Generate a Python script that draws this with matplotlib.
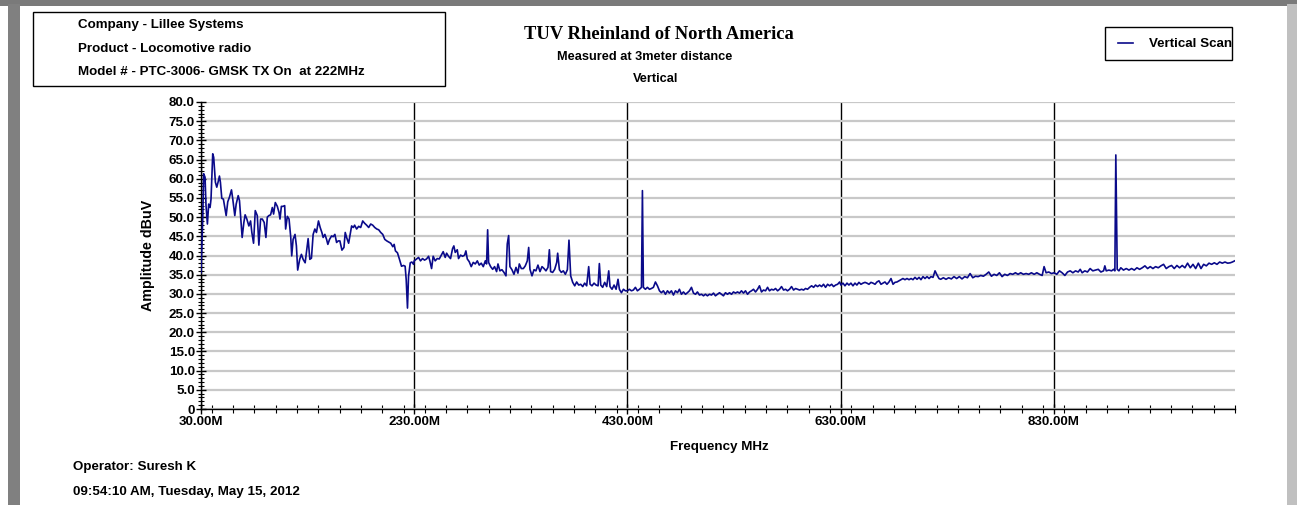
import matplotlib
matplotlib.use("Agg")
import matplotlib.pyplot as plt
from matplotlib.patches import Rectangle
from matplotlib.ticker import MultipleLocator, FixedLocator, FuncFormatter

# ---------------- data ----------------
freq_mhz = [
    30.0, 31.6, 32.5, 33.8, 34.7, 36.0, 37.2, 38.5, 39.4, 41.0, 41.9, 43.5, 44.8, 46.0, 47.3, 48.2,
    49.5, 51.0, 53.6, 55.1, 56.7, 58.6, 59.8, 61.7, 63.0, 64.9, 66.1, 68.6, 70.2, 71.4, 73.0, 74.9,
    76.5, 77.7, 79.3, 80.9, 82.8, 84.3, 85.9, 87.5, 89.3, 90.9, 92.2, 93.7, 95.3, 96.9, 98.1, 99.7,
    101.6, 103.2, 104.1, 105.4, 106.9, 108.5, 109.4, 111.0, 112.6, 114.2, 115.1, 116.4, 118.2, 119.5,
    120.7, 122.6, 124.2, 125.8, 127.7, 129.2, 130.5, 132.1, 133.6, 135.2, 136.8, 138.3, 140.2, 141.8,
    143.4, 144.6, 146.2, 147.8, 149.0, 150.6, 152.5, 154.0, 155.6, 157.2, 158.7, 160.3, 162.2, 164.1,
    165.3, 166.6, 168.5, 169.7, 171.3, 172.9, 174.1, 176.0, 177.9, 179.8, 181.7, 183.5, 185.4, 187.3,
    189.2, 191.1, 193.0, 194.9, 196.7, 198.6, 200.5, 202.4, 204.3, 206.2, 208.0, 209.9, 211.2, 212.4,
    214.3, 216.2, 218.1, 220.0, 221.5, 222.5, 223.7, 224.7, 226.3, 227.8, 229.4,
    230.0, 232.2, 234.1, 235.9, 237.8, 239.7, 241.6, 243.5, 244.7, 246.3, 247.8, 249.7, 251.6, 253.5,
    255.4, 257.2, 259.1, 260.4, 262.2, 264.1, 266.0, 267.2, 268.5, 270.4, 271.6, 273.5, 275.4, 277.3,
    278.5, 279.8, 281.6, 283.5, 285.4, 287.3, 289.2, 291.0, 292.9, 294.8, 296.7, 297.9, 298.9, 299.8,
    301.7, 303.6, 305.4, 307.3, 308.6, 310.4, 312.3, 314.2, 316.1, 317.3, 318.6, 319.8, 321.7, 323.6,
    325.5, 327.3, 328.6, 330.5, 332.4, 334.2, 336.1, 337.4, 338.6, 340.5, 342.4, 344.2, 346.1, 348.0,
    349.9, 351.8, 353.6, 355.5, 356.8, 358.0, 359.9, 361.8, 363.7, 364.6, 366.2, 368.0, 369.9, 371.8,
    373.7, 375.2, 376.8, 378.7, 380.6, 382.4, 384.3, 386.2, 388.1, 389.9, 391.8, 393.7, 395.0, 396.8,
    398.7, 400.6, 402.5, 403.7, 405.0, 406.8, 408.7, 410.6, 412.5, 413.7, 415.6, 417.5, 419.4, 421.2,
    422.5, 424.4, 426.3, 428.1, 430.0, 431.9, 433.8, 435.6, 437.5, 439.4, 441.3, 443.2, 444.1, 445.0,
    446.9, 448.8, 450.7, 452.5, 454.4, 456.3, 458.2, 460.1, 461.9, 463.8, 465.7, 467.6, 469.4, 471.3,
    473.2, 475.1, 477.0, 478.8,
    480.7, 482.6, 484.5, 486.3, 488.2, 490.1, 492.0, 493.9, 495.7, 497.6, 499.5, 501.4, 503.2, 505.1,
    507.0, 508.9, 510.8, 512.6, 514.5, 516.4, 518.3, 520.1, 522.0, 523.9, 525.8, 527.7, 529.5, 531.4,
    533.3, 535.2, 537.0, 538.9, 540.8, 542.7, 544.6, 546.4, 548.3, 550.2, 552.1, 553.9, 555.8, 557.7,
    559.6, 561.5, 563.3, 565.2, 567.1, 569.0, 570.9, 572.7, 574.6, 576.5, 578.4, 580.2, 582.1, 584.0,
    585.9, 587.8, 589.6, 591.5, 593.4, 595.3, 597.1, 599.0, 600.9, 602.8, 604.7, 606.5, 608.4, 610.3,
    612.2, 614.0, 615.9, 617.8, 619.7, 621.6, 623.4, 625.3, 627.2, 629.1, 630.3, 632.2, 634.1, 636.0,
    637.8, 639.7, 641.6, 643.5, 645.3, 647.2, 649.1, 651.0, 652.9, 654.7, 656.6, 658.5, 660.4, 662.3,
    664.1, 666.0, 667.9, 669.8, 671.6, 673.5, 675.4, 677.3, 679.2, 681.0, 682.9, 684.8, 686.7, 688.5,
    690.4, 692.3, 694.2, 696.1, 697.9, 699.8, 701.7, 703.6, 705.4, 707.3, 709.2, 711.1, 713.0, 714.8,
    716.7, 718.6, 720.5, 722.3,
    723.9, 726.4, 728.9, 731.4, 733.9, 736.4, 738.9, 741.4, 743.9, 746.5, 749.0, 751.5, 754.0, 756.5,
    759.0, 761.5, 764.0, 766.5, 769.0, 771.5, 774.0, 776.5, 779.0, 781.5, 784.0, 786.5, 789.0, 791.5,
    794.0, 796.5, 799.0, 801.5, 804.0, 806.5, 809.0, 811.6, 814.1, 816.6, 819.1, 820.9, 822.8, 825.3,
    827.8, 830.3, 832.8, 835.3, 837.8, 840.4, 842.9, 845.4, 847.9, 850.4, 852.9, 854.8, 856.6, 859.1,
    861.6, 864.1, 866.6, 869.1, 871.7, 874.2, 876.7, 877.9, 879.2, 881.7, 884.2, 886.1, 887.3, 888.2,
    889.5, 891.1, 892.9, 895.4, 898.0, 900.5, 903.0, 905.5, 908.0, 910.5, 913.0, 915.5, 918.0, 920.5,
    923.0, 925.5, 928.0, 930.5, 933.0, 935.5, 938.0, 940.5, 943.0, 945.5, 948.0, 950.5, 953.0, 955.5,
    958.1, 960.6, 963.1, 965.6, 968.1, 970.6, 973.1, 975.6, 978.1, 980.6, 983.1, 985.6, 988.1, 990.6,
    993.1, 995.6, 997.5, 999.7,
]

amp_dbuv = [
    35.5, 49.5, 61.3, 60.4, 53.0, 48.2, 53.4, 52.5, 54.7, 66.5, 65.6, 59.1, 57.8, 59.1, 60.7, 59.1,
    54.9, 54.7, 50.4, 54.0, 55.2, 57.1, 54.7, 50.4, 53.4, 55.6, 54.3, 44.7, 48.6, 50.6, 49.5, 47.7,
    49.0, 46.0, 43.2, 51.7, 50.4, 42.7, 49.5, 49.5, 48.6, 44.7, 50.0, 50.4, 50.6, 52.5, 50.8, 53.8,
    52.8, 51.2, 49.5, 52.8, 52.8, 53.0, 46.9, 50.2, 49.5, 44.7, 39.9, 44.2, 45.5, 42.5,
    36.2, 39.0, 40.3, 39.0, 38.1, 41.6, 44.4, 39.0, 39.3, 45.5, 46.9, 46.0, 49.0, 47.3,
    46.0, 44.7, 45.5, 44.2, 42.9, 44.2, 45.1, 44.9, 45.5, 43.4, 43.8, 43.8, 41.4, 42.1,
    46.0, 44.7, 43.2, 45.1, 47.7, 47.3, 47.9, 46.9, 47.6, 47.3, 49.0, 48.4, 47.9, 47.3,
    48.2, 47.9, 47.3, 46.9, 46.7, 46.0, 45.5, 44.2, 43.8, 43.5, 43.2, 42.3, 42.9, 41.2,
    40.7, 39.0, 37.2, 37.4, 37.2, 33.7, 26.3, 34.6, 38.1, 38.3, 37.7,
    38.6, 39.1, 39.5, 38.6, 39.2, 38.8, 39.1, 39.8, 38.6, 36.6, 39.8, 38.6, 39.2, 39.1,
    40.1, 41.0, 39.5, 40.6, 39.8, 39.2, 41.8, 42.5, 40.8, 41.5, 39.2, 40.1, 39.8, 40.1,
    41.2, 39.1, 38.4, 37.1, 38.2, 37.8, 38.6, 37.5, 38.0, 37.1, 38.6, 37.8, 46.7, 38.2,
    37.1, 36.4, 37.1, 35.8, 37.8, 36.0, 36.3, 35.6, 34.7, 43.0, 45.2, 37.1, 36.3, 35.1,
    36.9, 35.4, 37.8, 36.6, 36.6, 37.3, 38.6, 42.1, 36.4, 34.7, 36.3, 36.0, 37.5, 35.8,
    37.1, 36.6, 36.0, 36.9, 41.5, 35.8, 35.6, 36.4, 38.2, 40.6, 36.3, 35.6, 36.0, 35.1,
    36.3, 44.0, 34.7, 33.0, 32.1, 33.1, 32.3, 32.5, 31.9, 32.8, 32.1, 37.1, 32.5, 32.1,
    32.8, 32.3, 32.1, 37.9, 32.3, 31.7, 33.0, 31.9, 36.0, 31.9, 31.2, 32.3, 31.2, 33.8,
    31.2, 30.3, 31.2, 30.8, 30.8, 31.2, 30.8, 31.0, 31.7, 30.8, 31.2, 31.7, 56.9, 31.7,
    31.2, 31.7, 31.2, 31.4, 31.7, 33.1, 32.1, 30.8, 30.3, 30.8, 29.9, 30.8, 30.2, 30.8,
    29.7, 30.8, 30.3, 31.2,
    29.9, 30.5, 29.9, 30.3, 30.8, 31.7, 30.2, 29.9, 30.5, 29.7, 29.9, 29.5, 29.9, 29.5,
    29.9, 29.7, 30.2, 29.5, 29.9, 30.3, 29.9, 29.5, 30.3, 29.9, 30.3, 29.9, 30.5, 30.2,
    30.5, 30.2, 30.8, 30.2, 30.8, 29.9, 30.5, 30.8, 31.2, 30.5, 31.2, 32.1, 30.5, 31.0,
    30.8, 31.7, 30.8, 31.2, 31.0, 31.4, 30.8, 31.2, 31.9, 31.0, 31.2, 30.8, 31.2, 31.9,
    31.0, 31.4, 31.2, 31.0, 31.2, 31.0, 31.4, 31.2, 31.7, 32.1, 31.7, 32.3, 31.9, 32.3,
    31.9, 32.5, 31.7, 32.5, 32.1, 32.5, 31.9, 32.3, 32.5, 33.1, 32.3, 32.8, 32.1, 32.8,
    32.3, 32.8, 32.1, 32.8, 32.3, 33.0, 32.5, 32.8, 33.0, 32.8, 32.5, 33.0, 32.8, 32.5,
    33.1, 33.4, 32.5, 32.8, 33.1, 32.5, 33.1, 34.0, 32.5, 33.0, 33.1, 33.4, 33.7, 34.0,
    33.7, 34.0, 33.7, 34.0, 33.7, 34.3, 33.8, 34.3, 33.7, 34.5, 34.0, 34.5, 34.0, 34.5,
    34.3, 36.0, 34.9, 34.0,
    33.8, 34.2, 33.8, 34.2, 33.9, 34.5, 34.0, 34.5, 33.9, 34.5, 34.2, 35.3, 34.2, 34.6,
    34.5, 34.8, 34.6, 35.1, 35.7, 34.6, 35.1, 34.8, 35.5, 34.5, 35.1, 34.8, 35.3, 35.1,
    35.5, 35.1, 35.5, 35.1, 35.3, 35.1, 35.5, 35.1, 35.5, 35.1, 34.8, 37.1, 35.5, 35.7,
    35.3, 35.5, 35.1, 36.0, 35.5, 34.8, 35.7, 36.0, 35.5, 36.0, 35.7, 36.4, 35.5, 36.0,
    35.7, 36.6, 36.0, 36.2, 36.4, 35.7, 36.0, 37.3, 36.0, 36.2, 36.0, 36.4, 36.0, 66.2,
    36.4, 36.0, 36.8, 36.2, 36.6, 36.2, 36.6, 36.2, 36.8, 36.4, 36.8, 37.3, 36.6, 37.1,
    36.6, 37.1, 36.8, 37.3, 37.7, 36.6, 37.1, 37.4, 36.6, 37.4, 36.8, 37.4, 36.8, 38.0,
    36.8, 37.7, 36.6, 38.0, 36.6, 37.7, 37.3, 38.0, 37.7, 38.1, 37.7, 38.3, 38.0, 38.3,
    38.0, 38.1, 38.3, 38.6,
]

x_major_ticks = [30, 230, 430, 630, 830]
x_tick_labels = ["30.00M", "230.00M", "430.00M", "630.00M", "830.00M"]
y_major_ticks = [0, 5, 10, 15, 20, 25, 30, 35, 40, 45, 50, 55, 60, 65, 70, 75, 80]

series_name = "Vertical Scan"
title_main = "TUV Rheinland of North America"
title_sub1 = "Measured at 3meter distance"
title_sub2 = "Vertical"
info_lines = ["Company - Lillee Systems",
              "Product - Locomotive radio",
              "Model # - PTC-3006- GMSK TX On  at 222MHz"]
operator_text = "Operator: Suresh K"
date_text = "09:54:10 AM, Tuesday, May 15, 2012"

# ---------------- figure ----------------
W, H = 1297, 505
plt.rcParams['font.family'] = ['Liberation Sans', 'DejaVu Sans']
plt.rcParams['font.weight'] = 'bold'

fig = plt.figure(figsize=(W / 100, H / 100), dpi=100)
fig.patch.set_facecolor('white')


def fx(px):
    return px / W


def fy(py):
    return 1 - py / H


FS = 9.6  # general bold text size

# window-like frame
fig.add_artist(Rectangle((0, fy(6)), 1, 6 / H, transform=fig.transFigure,
                         facecolor='#7a7a7a', edgecolor='none', zorder=0))
fig.add_artist(Rectangle((fx(8), 0), 12 / W, fy(4), transform=fig.transFigure,
                         facecolor='#808080', edgecolor='none', zorder=0))
fig.add_artist(Rectangle((fx(1287), 0), 10 / W, fy(4), transform=fig.transFigure,
                         facecolor='#c0c0c0', edgecolor='none', zorder=0))

ax = fig.add_axes([fx(201), fy(409), (1235 - 201) / W, (409 - 102) / H])
ax.set_facecolor('none')

line, = ax.plot(freq_mhz, amp_dbuv, color='#0a0a8a', lw=1.2, label=series_name, zorder=3)

ax.set_xlim(30, 1000)
ax.set_ylim(0, 80)

ax.xaxis.set_major_locator(FixedLocator(x_major_ticks))
ax.set_xticklabels(x_tick_labels)
ax.xaxis.set_minor_locator(MultipleLocator(20))
ax.yaxis.set_major_locator(FixedLocator(y_major_ticks))
ax.yaxis.set_minor_locator(MultipleLocator(1))
ax.yaxis.set_major_formatter(FuncFormatter(lambda v, p: "0" if v == 0 else f"{v:.1f}"))

ax.grid(axis='y', which='major', color='#c8c8c8', lw=1.6, zorder=1)
ax.grid(axis='x', which='major', color='black', lw=1.0, zorder=2)
ax.set_axisbelow(True)

for s in ('top', 'right'):
    ax.spines[s].set_visible(False)
for s in ('left', 'bottom'):
    ax.spines[s].set_color('black')
    ax.spines[s].set_linewidth(1.0)

ax.tick_params(axis='both', which='major', direction='inout', length=7, width=1,
               labelsize=FS, pad=1, colors='black')
ax.tick_params(axis='x', which='major', pad=1.5)
ax.tick_params(axis='both', which='minor', direction='inout', length=5, width=0.8)
ax.tick_params(axis='x', which='minor', length=6)
for lab in ax.get_xticklabels() + ax.get_yticklabels():
    lab.set_fontweight('bold')

fig.text(fx(148), fy(255), "Amplitude dBuV", rotation=90, ha='center', va='center',
         fontsize=10.3, fontweight='bold')
fig.text(fx(719), fy(447), "Frequency MHz", ha='center', va='center', fontsize=FS, fontweight='bold')
fig.text(fx(73), fy(467), operator_text, ha='left', va='center', fontsize=FS, fontweight='bold')
fig.text(fx(73), fy(492), date_text, ha='left', va='center', fontsize=FS, fontweight='bold')

# titles
fig.text(fx(659), fy(34), title_main, ha='center', va='center', fontsize=13.3,
         fontweight='bold', family=['Liberation Serif', 'DejaVu Serif'])
fig.text(fx(645), fy(57), title_sub1, ha='center', va='center', fontsize=9.2, fontweight='bold')
fig.text(fx(656), fy(79), title_sub2, ha='center', va='center', fontsize=9.2, fontweight='bold')

# info box
fig.add_artist(Rectangle((fx(33), fy(86)), (445 - 33) / W, (86 - 12) / H,
                         transform=fig.transFigure, facecolor='white', edgecolor='black', lw=1.0))
for i, t in enumerate(info_lines):
    fig.text(fx(78), fy(25 + 23.5 * i), t, ha='left', va='center', fontsize=FS, fontweight='bold')

# legend (box drawn separately, text runs to the right edge as in the reference)
fig.add_artist(Rectangle((fx(1105), fy(60)), (1232 - 1105) / W, (60 - 27) / H,
                         transform=fig.transFigure, facecolor='white', edgecolor='black', lw=1.0))
leg = fig.legend(handles=[line], loc='center left', bbox_to_anchor=(fx(1118), fy(44)),
                 frameon=False, fontsize=FS, handlelength=1.1, handletextpad=1.2,
                 borderpad=0, borderaxespad=0)
for t in leg.get_texts():
    t.set_fontweight('bold')

fig.savefig("out.png", dpi=100)
